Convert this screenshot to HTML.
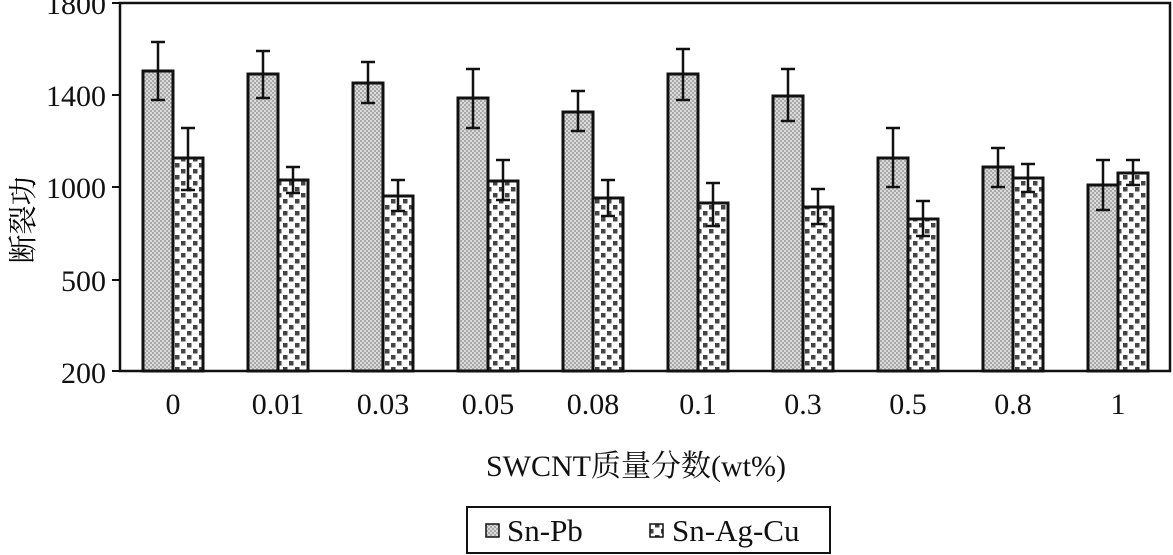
<!DOCTYPE html>
<html><head><meta charset="utf-8"><style>body{margin:0;background:#fff}svg{display:block}</style></head><body>
<svg width="1173" height="555" xmlns="http://www.w3.org/2000/svg" font-family="Liberation Serif, Noto Serif CJK SC, serif">
<defs>
<pattern id="pb" width="4" height="4" patternUnits="userSpaceOnUse"><rect width="4" height="4" fill="#dadada"/><rect width="2" height="2" fill="#a8a8a8"/><rect x="2" y="2" width="2" height="2" fill="#a8a8a8"/></pattern>
<pattern id="ag" width="12" height="12" patternUnits="userSpaceOnUse"><rect width="12" height="12" fill="#fff"/><rect x="1" y="1" width="4.5" height="4.5" fill="#444"/><rect x="7" y="7" width="4.5" height="4.5" fill="#444"/></pattern>
</defs>
<g font-size="30" text-anchor="end" fill="#111">
<text x="106" y="14">1800</text><text x="106" y="106">1400</text><text x="106" y="198">1000</text><text x="106" y="291">500</text><text x="106" y="383">200</text>
</g>
<g stroke="#111" stroke-width="2"><line x1="112" y1="3" x2="120" y2="3"/><line x1="112" y1="95" x2="120" y2="95"/><line x1="112" y1="187" x2="120" y2="187"/><line x1="112" y1="280" x2="120" y2="280"/><line x1="112" y1="371" x2="120" y2="371"/></g>
<text transform="translate(33,220) rotate(-90)" font-size="29" text-anchor="middle" font-family="Noto Serif CJK SC, serif">断裂功</text>
<g stroke="#111" stroke-width="3">
<rect x="143" y="71" width="30" height="300" fill="url(#pb)"/><rect x="173" y="158" width="30" height="213" fill="url(#ag)"/>
<rect x="248" y="74" width="30" height="297" fill="url(#pb)"/><rect x="278" y="180" width="30" height="191" fill="url(#ag)"/>
<rect x="353" y="83" width="30" height="288" fill="url(#pb)"/><rect x="383" y="196" width="30" height="175" fill="url(#ag)"/>
<rect x="458" y="98" width="30" height="273" fill="url(#pb)"/><rect x="488" y="181" width="30" height="190" fill="url(#ag)"/>
<rect x="563" y="112" width="30" height="259" fill="url(#pb)"/><rect x="593" y="198" width="30" height="173" fill="url(#ag)"/>
<rect x="668" y="74" width="30" height="297" fill="url(#pb)"/><rect x="698" y="203" width="30" height="168" fill="url(#ag)"/>
<rect x="773" y="96" width="30" height="275" fill="url(#pb)"/><rect x="803" y="207" width="30" height="164" fill="url(#ag)"/>
<rect x="878" y="158" width="30" height="213" fill="url(#pb)"/><rect x="908" y="219" width="30" height="152" fill="url(#ag)"/>
<rect x="983" y="167" width="30" height="204" fill="url(#pb)"/><rect x="1013" y="178" width="30" height="193" fill="url(#ag)"/>
<rect x="1088" y="185" width="30" height="186" fill="url(#pb)"/><rect x="1118" y="173" width="30" height="198" fill="url(#ag)"/>
</g>
<g stroke="#111" stroke-width="2.5" fill="none">
<path d="M158 42V100M151 42H165M151 100H165M188 128V190M181 128H195M181 190H195"/>
<path d="M263 51V98M256 51H270M256 98H270M293 167V193M286 167H300M286 193H300"/>
<path d="M368 62V103M361 62H375M361 103H375M398 180V211M391 180H405M391 211H405"/>
<path d="M473 69V128M466 69H480M466 128H480M503 160V200M496 160H510M496 200H510"/>
<path d="M578 91V131M571 91H585M571 131H585M608 180V216M601 180H615M601 216H615"/>
<path d="M683 49V100M676 49H690M676 100H690M713 183V226M706 183H720M706 226H720"/>
<path d="M788 69V121M781 69H795M781 121H795M818 189V224M811 189H825M811 224H825"/>
<path d="M893 128V187M886 128H900M886 187H900M923 201V236M916 201H930M916 236H930"/>
<path d="M998 148V187M991 148H1005M991 187H1005M1028 164V192M1021 164H1035M1021 192H1035"/>
<path d="M1103 160V210M1096 160H1110M1096 210H1110M1133 160V185M1126 160H1140M1126 185H1140"/>
</g>
<rect x="120" y="3" width="1050" height="368" fill="none" stroke="#111" stroke-width="2.5"/>
<g font-size="30" text-anchor="middle" fill="#111">
<text x="173" y="414">0</text><text x="278" y="414">0.01</text><text x="383" y="414">0.03</text><text x="488" y="414">0.05</text><text x="593" y="414">0.08</text><text x="698" y="414">0.1</text><text x="803" y="414">0.3</text><text x="908" y="414">0.5</text><text x="1013" y="414">0.8</text><text x="1118" y="414">1</text>
</g>
<text x="636" y="476" font-size="30" text-anchor="middle" fill="#111">SWCNT质量分数(wt%)</text>
<rect x="467" y="507" width="363" height="46" fill="none" stroke="#111" stroke-width="2"/>
<rect x="486" y="524" width="13" height="13" fill="url(#pb)" stroke="#111" stroke-width="1.5"/>
<text x="507" y="541" font-size="31" fill="#111">Sn-Pb</text>
<rect x="650" y="524" width="13" height="13" fill="url(#ag)" stroke="#111" stroke-width="1.5"/>
<text x="672" y="541" font-size="31" fill="#111">Sn-Ag-Cu</text>
</svg>
</body></html>
